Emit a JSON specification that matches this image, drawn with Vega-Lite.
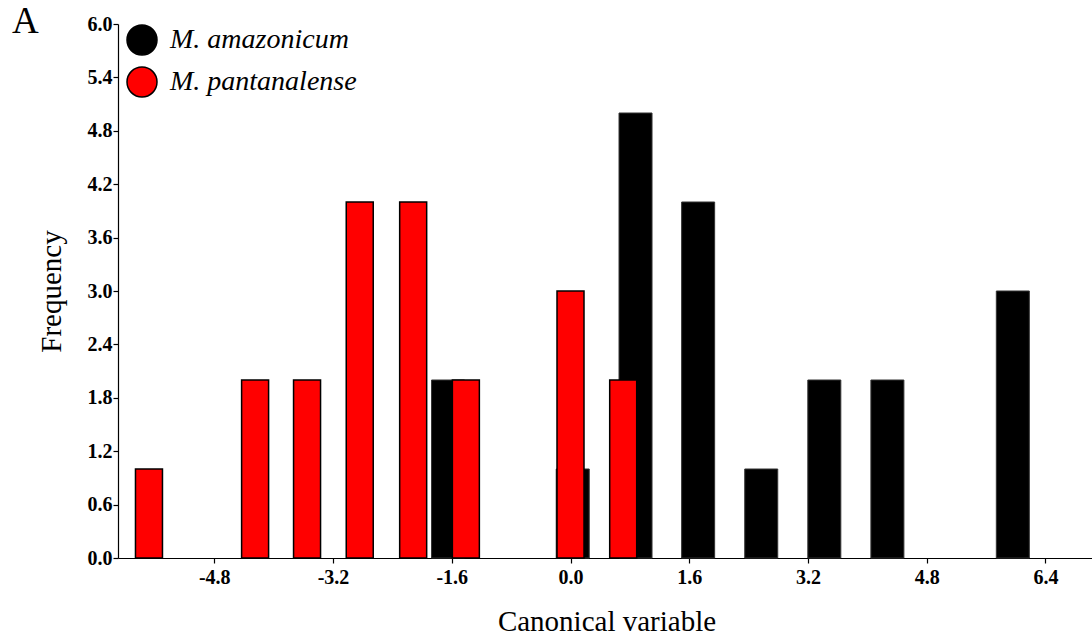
{
  "$schema": "https://vega.github.io/schema/vega-lite/v6.json",
  "autosize": "none",
  "width": 977,
  "height": 534,
  "padding": {"left": 118, "top": 24, "right": 0, "bottom": 81},
  "background": "white",
  "title": {
    "text": "A",
    "anchor": "start",
    "frame": "group",
    "font": "Liberation Serif",
    "fontSize": 37,
    "fontWeight": "normal",
    "color": "black",
    "baseline": "alphabetic",
    "dx": -106,
    "offset": 0,
    "dy": 56
  },
  "config": {
    "view": {"stroke": null},
    "font": "Liberation Serif",
    "axis": {
      "labelFont": "Liberation Serif",
      "titleFont": "Liberation Serif",
      "labelFontWeight": "bold",
      "labelFontSize": 20,
      "labelColor": "black",
      "titleFontSize": 29,
      "titleFontWeight": "normal",
      "titleColor": "black",
      "domainColor": "black",
      "domainWidth": 1.2,
      "tickColor": "black",
      "tickWidth": 1.2,
      "tickSize": 5,
      "grid": false
    }
  },
  "data": {
    "values": [
      {"species": "M. amazonicum", "canonical": -1.65, "frequency": 2},
      {"species": "M. amazonicum", "canonical": 0.03, "frequency": 1},
      {"species": "M. amazonicum", "canonical": 0.876, "frequency": 5},
      {"species": "M. amazonicum", "canonical": 1.72, "frequency": 4},
      {"species": "M. amazonicum", "canonical": 2.57, "frequency": 1},
      {"species": "M. amazonicum", "canonical": 3.42, "frequency": 2},
      {"species": "M. amazonicum", "canonical": 4.27, "frequency": 2},
      {"species": "M. amazonicum", "canonical": 5.96, "frequency": 3},
      {"species": "M. pantanalense", "canonical": -5.68, "frequency": 1},
      {"species": "M. pantanalense", "canonical": -4.25, "frequency": 2},
      {"species": "M. pantanalense", "canonical": -3.55, "frequency": 2},
      {"species": "M. pantanalense", "canonical": -2.84, "frequency": 4},
      {"species": "M. pantanalense", "canonical": -2.12, "frequency": 4},
      {"species": "M. pantanalense", "canonical": -1.41, "frequency": 2},
      {"species": "M. pantanalense", "canonical": 0.0, "frequency": 3},
      {"species": "M. pantanalense", "canonical": 0.71, "frequency": 2}
    ]
  },
  "encoding": {
    "x": {
      "field": "canonical",
      "type": "quantitative",
      "scale": {"domain": [-6.03, 7.0], "nice": false, "zero": false},
      "axis": {
        "title": "Canonical variable",
        "values": [-4.8, -3.2, -1.6, 0, 1.6, 3.2, 4.8, 6.4],
        "labelExpr": "replace(format(datum.value, '.1f'), '\u2212', '-')",
        "labelPadding": 4,
        "titlePadding": 20
      }
    },
    "y": {
      "field": "frequency",
      "type": "quantitative",
      "scale": {"domain": [0, 6], "nice": false},
      "axis": {
        "title": "Frequency",
        "values": [0, 0.6, 1.2, 1.8, 2.4, 3.0, 3.6, 4.2, 4.8, 5.4, 6.0],
        "format": ".1f",
        "labelPadding": 1,
        "titlePadding": 21
      }
    },
    "color": {
      "field": "species",
      "type": "nominal",
      "scale": {"domain": ["M. amazonicum", "M. pantanalense"], "range": ["black", "#ff0000"]},
      "legend": {
        "title": null,
        "orient": "none",
        "legendX": 8,
        "legendY": 0,
        "padding": 0,
        "symbolType": "circle",
        "symbolSize": 900,
        "symbolStrokeColor": "black",
        "symbolStrokeWidth": 1.5,
        "symbolOpacity": 1,
        "labelFont": "Liberation Serif",
        "labelFontStyle": "italic",
        "labelFontSize": 28,
        "labelColor": "black",
        "labelOffset": 12,
        "rowPadding": 6,
        "labelLimit": 400
      }
    }
  },
  "layer": [
    {
      "transform": [{"filter": "datum.species === 'M. amazonicum'"}],
      "mark": {"type": "bar", "size": 33, "stroke": "#333333", "strokeWidth": 1}
    },
    {
      "transform": [{"filter": "datum.species === 'M. pantanalense'"}],
      "mark": {"type": "bar", "size": 27, "stroke": "black", "strokeWidth": 1.5}
    }
  ]
}
